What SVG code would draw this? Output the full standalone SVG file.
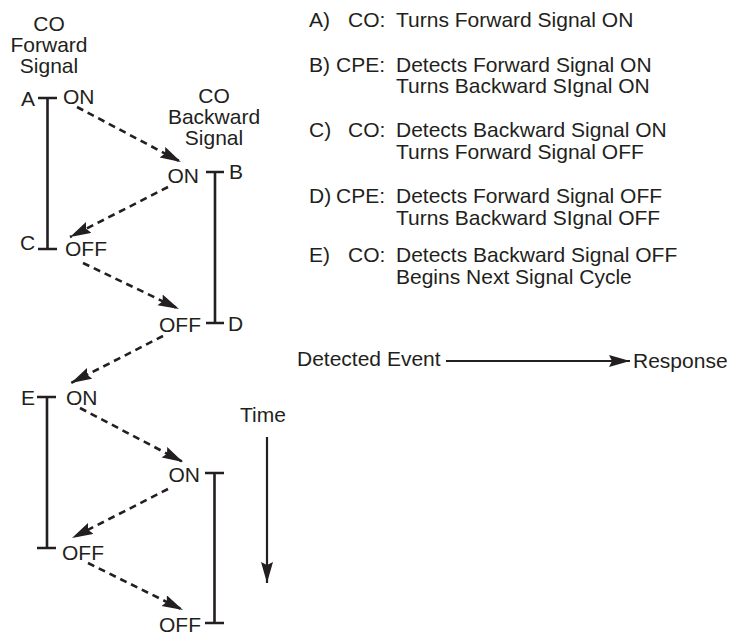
<svg xmlns="http://www.w3.org/2000/svg" width="729" height="635" viewBox="0 0 729 635">
<style>
text{font-family:"Liberation Sans",Arial,Helvetica,sans-serif;font-size:21px;fill:#231f20}
.c{text-anchor:middle}
.e{text-anchor:end}
.solid{stroke:#231f20;stroke-width:2.6;fill:none}
.dash{stroke:#231f20;stroke-width:2.6;fill:none;stroke-dasharray:7 5}
.thin{stroke:#231f20;stroke-width:2.2;fill:none}
</style>
<defs>
<marker id="ah" markerWidth="24" markerHeight="13" refX="21" refY="6" orient="auto" markerUnits="userSpaceOnUse">
<path d="M0,0 L21,6 L0,12 L3,6 z" fill="#231f20"/>
</marker>
</defs>
<rect width="729" height="635" fill="#fff"/>

<g id="titles">
<text class="c" x="49" y="31">CO</text>
<text class="c" x="49" y="52">Forward</text>
<text class="c" x="49" y="73">Signal</text>
<text class="c" x="214" y="103">CO</text>
<text class="c" x="214" y="124">Backward</text>
<text class="c" x="214" y="145">Signal</text>
</g>

<g id="fwd1">
<path class="solid" d="M38,98 H57 M47.5,98 V249 M38,249 H57"/>
<text x="21" y="106">A</text>
<text x="63" y="104">ON</text>
<text x="20" y="250">C</text>
<text x="65" y="256">OFF</text>
</g>

<g id="bwd1">
<path class="solid" d="M206,172 H224 M215,172 V323 M206,323 H224"/>
<text class="e" x="199" y="183">ON</text>
<text x="229" y="179">B</text>
<text class="e" x="201" y="332">OFF</text>
<text x="228" y="331">D</text>
</g>

<g id="fwd2">
<path class="solid" d="M37,397 H56 M47,397 V548 M37,548 H56"/>
<text x="21" y="405">E</text>
<text x="66" y="405">ON</text>
<text x="62" y="560">OFF</text>
</g>

<g id="bwd2">
<path class="solid" d="M205,473 H224 M214.5,473 V623 M205,623 H224"/>
<text class="e" x="200" y="482">ON</text>
<text class="e" x="201" y="632">OFF</text>
</g>

<g id="time">
<text x="240" y="422">Time</text>
<line class="thin" x1="267" y1="437" x2="267" y2="583" marker-end="url(#ah)"/>
</g>

<g id="connectors">
<line class="dash" x1="77" y1="107" x2="181" y2="162" marker-end="url(#ah)"/>
<line class="dash" x1="168" y1="187" x2="70" y2="237" marker-end="url(#ah)"/>
<line class="dash" x1="83" y1="263" x2="179" y2="309" marker-end="url(#ah)"/>
<line class="dash" x1="163" y1="336" x2="71" y2="383" marker-end="url(#ah)"/>
<line class="dash" x1="80" y1="408" x2="183" y2="462" marker-end="url(#ah)"/>
<line class="dash" x1="168" y1="489" x2="72" y2="538" marker-end="url(#ah)"/>
<line class="dash" x1="88" y1="563" x2="183" y2="610" marker-end="url(#ah)"/>
</g>

<g id="legend">
<text x="309" y="27">A)</text><text x="348" y="27">CO:</text><text x="396" y="27">Turns Forward Signal ON</text>
<text x="309" y="72">B)</text><text x="336" y="72">CPE:</text><text x="396" y="72">Detects Forward Signal ON</text>
<text x="396" y="93">Turns Backward SIgnal ON</text>
<text x="309" y="137">C)</text><text x="348" y="137">CO:</text><text x="396" y="137">Detects Backward Signal ON</text>
<text x="396" y="159">Turns Forward Signal OFF</text>
<text x="309" y="203">D)</text><text x="336" y="203">CPE:</text><text x="396" y="203">Detects Forward Signal OFF</text>
<text x="396" y="225">Turns Backward SIgnal OFF</text>
<text x="309" y="262">E)</text><text x="348" y="262">CO:</text><text x="396" y="262">Detects Backward Signal OFF</text>
<text x="396" y="284">Begins Next Signal Cycle</text>
</g>

<g id="key">
<text x="297" y="366">Detected Event</text>
<line class="thin" x1="446" y1="361" x2="630" y2="361" marker-end="url(#ah)"/>
<text x="633" y="368">Response</text>
</g>
</svg>
